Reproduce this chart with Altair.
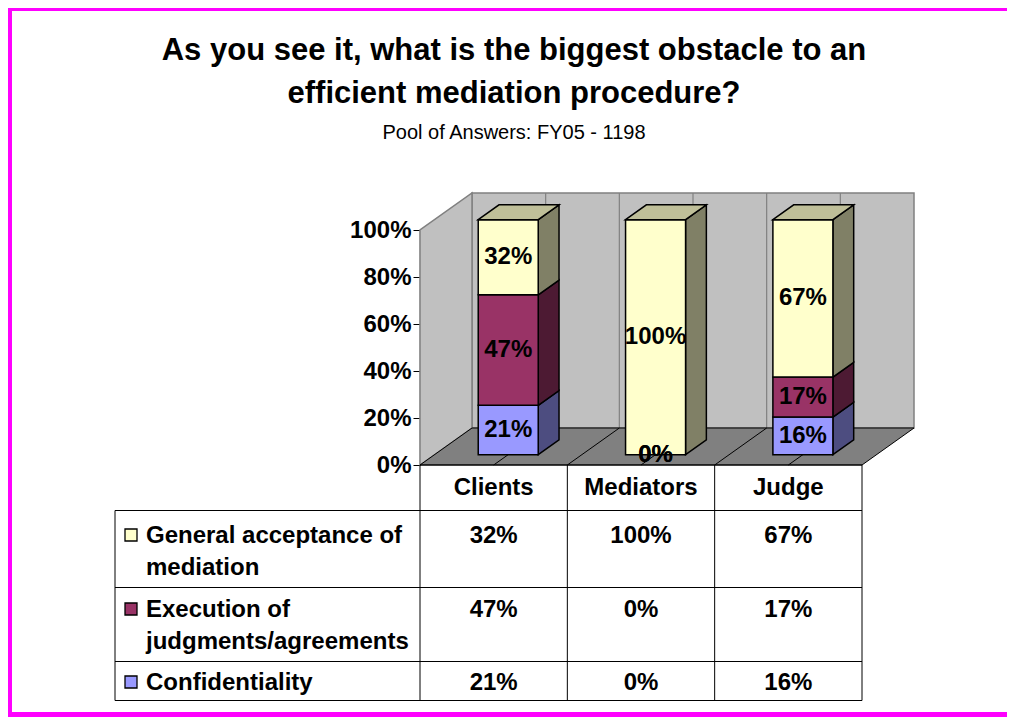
import altair as alt
import pandas as pd

# ---------------- data ----------------
categories = ["Clients", "Mediators", "Judge"]
series_names = ["Confidentiality", "Execution of judgments/agreements", "General acceptance of mediation"]  # bottom -> top
confidentiality = [21, 0, 16]
execution = [47, 0, 17]
general_acceptance = [32, 100, 67]
series_values = [confidentiality, execution, general_acceptance]
table_order = ["General acceptance of mediation", "Execution of judgments/agreements", "Confidentiality"]
legend_lines = [["General acceptance of", "mediation"], ["Execution of", "judgments/agreements"], ["Confidentiality"]]
y_ticks = [0, 20, 40, 60, 80, 100]
title_lines = ["As you see it, what is the biggest obstacle to an", "efficient mediation procedure?"]
subtitle = "Pool of Answers: FY05 - 1198"

# ---------------- style ----------------
FONT = "Liberation Sans"
FRONT = {"Confidentiality": "#9999ff", "Execution of judgments/agreements": "#993366",
         "General acceptance of mediation": "#ffffcc"}
SIDE = {"Confidentiality": "#4d4d80", "Execution of judgments/agreements": "#4d1a33",
        "General acceptance of mediation": "#808066"}
TOP = {"Confidentiality": "#7373bf", "Execution of judgments/agreements": "#73264d",
       "General acceptance of mediation": "#bfbf99"}
WALL, WALL_EDGE, FLOOR, BORDER = "#c0c0c0", "#808080", "#808080", "#ff00ff"

# ---------------- layout ----------------
W, H = 999, 709
OX, OY = 8, 8
X_RANGE = [420 - OX, 862 - OX]
Y_RANGE = [465 - OY, 230 - OY]
n = len(categories)
CAT_PX = (X_RANGE[1] - X_RANGE[0]) / n
PCT_PX = (Y_RANGE[0] - Y_RANGE[1]) / 100
DX = 52 / CAT_PX          # depth of the plot box, in category units
DY = 37 / PCT_PX          # depth of the plot box, in percent units
D0, D1 = 0.28, 0.68       # front / back plane of the columns (fraction of depth)
HW = 30 / CAT_PX          # half column width, category units

TABLE_LEFT = 115 - OX
TABLE_TOP = 465 - OY
ROW_LINES = [y - OY for y in [510.5, 587.5, 661.5, 700.5]]
HEADER_BASE = 495 - OY
ROW_BASES = [[543 - OY, 575 - OY], [617 - OY, 649 - OY], [690 - OY]]
KEY_Y = [535 - OY, 609 - OY, 682 - OY]
KEY_X = 131 - OX
LABEL_X = 146 - OX
TITLE_X = 514 - OX
TITLE_BASES = [60 - OY, 103 - OY]
SUB_BASE = 139 - OY

xs = alt.Scale(domain=[0, n], range=X_RANGE, nice=False, zero=False)
ys = alt.Scale(domain=[0, 100], range=Y_RANGE, nice=False, zero=False)
yaxis = alt.Axis(values=y_ticks, labelExpr="datum.value + '%'", title=None, grid=False,
                 offset=-X_RANGE[0], tickSize=7, tickColor="black", tickWidth=1,
                 domainColor=WALL_EDGE, domainWidth=1.5, labelFont=FONT, labelFontSize=24,
                 labelFontWeight="bold", labelColor="black", labelPadding=2)


def X(f):
    return alt.X(f, type="quantitative", scale=xs, axis=None)


def X2(f):
    return alt.X2(f)


def Y(f):
    return alt.Y(f, type="quantitative", scale=ys, axis=yaxis, stack=None)


def PX(f):
    return alt.X(f, type="quantitative", scale=None, axis=None)


def PY(f):
    return alt.Y(f, type="quantitative", scale=None, axis=None)


# ---------------- 3D box ----------------
back = pd.DataFrame({"x": [DX], "x2": [n + DX], "y": [DY], "y2": [100 + DY]})
back_wall = alt.Chart(back).mark_rect(fill=WALL, stroke=WALL_EDGE, strokeWidth=1.5).encode(
    x=X("x"), x2=X2("x2"), y=Y("y"), y2=alt.Y2("y2"))

grid_pos = [k / 2 for k in range(1, 2 * n)]
wg = pd.DataFrame({"x": [g + DX for g in grid_pos], "y": [DY] * len(grid_pos), "y2": [100 + DY] * len(grid_pos)})
wall_grid = alt.Chart(wg).mark_rule(color=WALL_EDGE, strokeWidth=1.2).encode(
    x=X("x"), y=Y("y"), y2=alt.Y2("y2"))

lw = pd.DataFrame({"x": [0, DX], "y": [0, DY], "y2": [100, 100 + DY]})
left_wall = alt.Chart(lw).mark_area(orient="vertical", fill=WALL, stroke=WALL_EDGE, strokeWidth=1.5).encode(
    x=X("x"), y=Y("y"), y2=alt.Y2("y2"))

fl = pd.DataFrame({"x": [0, DX, n, n + DX], "y": [0, 0, 0, DY], "y2": [0, DY, DY, DY]})
floor = alt.Chart(fl).mark_area(orient="vertical", fill=FLOOR, stroke="black", strokeWidth=1).encode(
    x=X("x"), y=Y("y"), y2=alt.Y2("y2"))

fg = pd.DataFrame({"x": grid_pos, "x2": [g + DX for g in grid_pos],
                   "y": [0] * len(grid_pos), "y2": [DY] * len(grid_pos)})
floor_grid = alt.Chart(fg).mark_rule(color="black", strokeWidth=1).encode(
    x=X("x"), x2=X2("x2"), y=Y("y"), y2=alt.Y2("y2"))

# ---------------- columns ----------------
fronts, sides, tops, labels = [], [], [], []
for i, cat in enumerate(categories):
    c = i + 0.5
    base = 0
    last = None
    for s, vals in zip(series_names, series_values):
        v = vals[i]
        b, t = base, base + v
        base = t
        labels.append({"x": c + D0 * DX, "y": (b + t) / 2 + D0 * DY, "text": f"{v}%"})
        if v <= 0:
            continue
        sid = f"{cat}-{s}"
        fronts.append({"x": c - HW + D0 * DX, "x2": c + HW + D0 * DX,
                       "y": b + D0 * DY, "y2": t + D0 * DY, "fill": FRONT[s]})
        for d in (D0, D1):
            sides.append({"id": sid, "x": c + HW + d * DX, "y": b + d * DY, "y2": t + d * DY, "fill": SIDE[s]})
        last = (s, t)
    s, t = last
    L0, R0 = c - HW + D0 * DX, c + HW + D0 * DX
    L1, R1 = c - HW + D1 * DX, c + HW + D1 * DX
    T0, T1 = t + D0 * DY, t + D1 * DY
    for xx, y1, y2 in [(L0, T0, T0), (L1, T1, T0), (R0, T1, T0), (R1, T1, T1)]:
        tops.append({"id": cat, "x": xx, "y": y1, "y2": y2, "fill": TOP[s]})

side_layer = alt.Chart(pd.DataFrame(sides)).mark_area(orient="vertical", stroke="black", strokeWidth=1.5).encode(
    x=X("x"), y=Y("y"), y2=alt.Y2("y2"), fill=alt.Fill("fill:N", scale=None), detail="id:N")
top_layer = alt.Chart(pd.DataFrame(tops)).mark_area(orient="vertical", stroke="black", strokeWidth=1.5).encode(
    x=X("x"), y=Y("y"), y2=alt.Y2("y2"), fill=alt.Fill("fill:N", scale=None), detail="id:N")
front_layer = alt.Chart(pd.DataFrame(fronts)).mark_rect(stroke="black", strokeWidth=1.5).encode(
    x=X("x"), x2=X2("x2"), y=Y("y"), y2=alt.Y2("y2"), fill=alt.Fill("fill:N", scale=None))
label_layer = alt.Chart(pd.DataFrame(labels)).mark_text(
    font=FONT, fontSize=24, fontWeight="bold", color="black", align="center", baseline="middle").encode(
    x=X("x"), y=Y("y"), text="text:N")

# ---------------- data table ----------------
hl = pd.DataFrame({"x": [TABLE_LEFT] * len(ROW_LINES), "x2": [X_RANGE[1]] * len(ROW_LINES), "y": ROW_LINES})
h_lines = alt.Chart(hl).mark_rule(color="black", strokeWidth=1).encode(
    x=PX("x"), x2=alt.X2("x2"), y=PY("y"))
top_line = alt.Chart(pd.DataFrame({"x": [X_RANGE[0]], "x2": [X_RANGE[1]], "y": [TABLE_TOP]})).mark_rule(
    color="black", strokeWidth=1).encode(x=PX("x"), x2=alt.X2("x2"), y=PY("y"))
vl = pd.DataFrame({"c": list(range(n + 1)), "y": [TABLE_TOP] * (n + 1), "y2": [ROW_LINES[-1]] * (n + 1)})
v_lines = alt.Chart(vl).mark_rule(color="black", strokeWidth=1).encode(
    x=X("c"), y=PY("y"), y2=alt.Y2("y2"))
left_line = alt.Chart(pd.DataFrame({"x": [TABLE_LEFT], "y": [ROW_LINES[0]], "y2": [ROW_LINES[-1]]})).mark_rule(
    color="black", strokeWidth=1).encode(x=PX("x"), y=PY("y"), y2=alt.Y2("y2"))

TXT = dict(font=FONT, fontSize=24, fontWeight="bold", color="black", baseline="alphabetic")
hdr = pd.DataFrame({"c": [i + 0.5 for i in range(n)], "y": [HEADER_BASE] * n, "text": categories})
header = alt.Chart(hdr).mark_text(align="center", **TXT).encode(x=X("c"), y=PY("y"), text="text:N")

cells = []
for r, s in enumerate(table_order):
    vals = series_values[series_names.index(s)]
    for i in range(n):
        cells.append({"c": i + 0.5, "y": ROW_BASES[r][0], "text": f"{vals[i]}%"})
cell_layer = alt.Chart(pd.DataFrame(cells)).mark_text(align="center", **TXT).encode(
    x=X("c"), y=PY("y"), text="text:N")

leg = []
for r, lines in enumerate(legend_lines):
    for k, line in enumerate(lines):
        leg.append({"x": LABEL_X, "y": ROW_BASES[r][k], "text": line})
leg_layer = alt.Chart(pd.DataFrame(leg)).mark_text(align="left", **TXT).encode(
    x=PX("x"), y=PY("y"), text="text:N")

keys = pd.DataFrame({"x": [KEY_X] * len(table_order), "y": KEY_Y, "fill": [FRONT[s] for s in table_order]})
key_layer = alt.Chart(keys).mark_square(size=144, stroke="black", strokeWidth=1.3, opacity=1).encode(
    x=PX("x"), y=PY("y"), fill=alt.Fill("fill:N", scale=None))

# ---------------- titles ----------------
tt = pd.DataFrame({"x": [TITLE_X] * 2, "y": TITLE_BASES, "text": title_lines})
title_layer = alt.Chart(tt).mark_text(font=FONT, fontSize=31, fontWeight="bold", color="black",
                                      align="center", baseline="alphabetic").encode(
    x=PX("x"), y=PY("y"), text="text:N")
st = pd.DataFrame({"x": [TITLE_X], "y": [SUB_BASE], "text": [subtitle]})
sub_layer = alt.Chart(st).mark_text(font=FONT, fontSize=20, color="black",
                                    align="center", baseline="alphabetic").encode(
    x=PX("x"), y=PY("y"), text="text:N")

# ---------------- frame (left, top, bottom edges of the magenta border) ----------------
one = pd.DataFrame({"a": [0]})
border_left = alt.Chart(one).mark_rect(color=BORDER).encode(
    x=alt.value(0), x2=alt.value(4), y=alt.value(0), y2=alt.value(H))
border_top = alt.Chart(one).mark_rect(color=BORDER).encode(
    x=alt.value(0), x2=alt.value(W + 8), y=alt.value(0), y2=alt.value(3))
border_bottom = alt.Chart(one).mark_rect(color=BORDER).encode(
    x=alt.value(0), x2=alt.value(W + 8), y=alt.value(H - 5), y2=alt.value(H))

chart = alt.layer(
    back_wall, wall_grid, left_wall, floor, floor_grid,
    side_layer, front_layer, top_layer, label_layer,
    top_line, h_lines, v_lines, left_line, header, cell_layer, leg_layer, key_layer,
    title_layer, sub_layer, border_left, border_top, border_bottom,
).properties(
    width=W, height=H, padding=0, autosize=alt.AutoSizeParams(type="none"), background="white"
).configure_view(stroke=None)

chart.save("out.html", embed_options={"renderer": "svg", "actions": False})
